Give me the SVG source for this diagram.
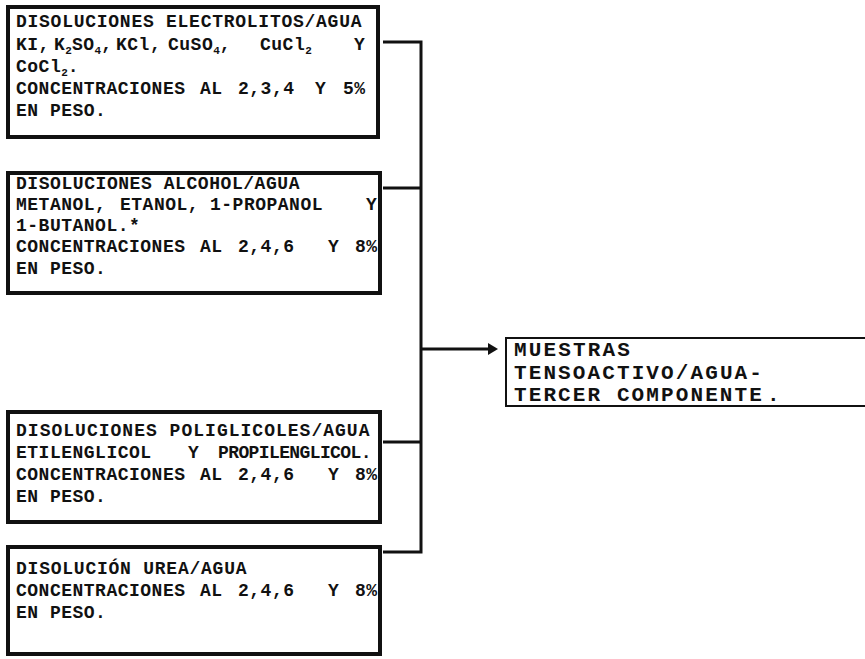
<svg xmlns="http://www.w3.org/2000/svg" width="865" height="659" viewBox="0 0 865 659">
<style>
.t{font-family:"Liberation Mono","Courier New",monospace;font-weight:bold;font-size:18px;letter-spacing:0.5px;fill:#111}
.big{font-size:21px;letter-spacing:2.1px}
.sub{font-size:11px;letter-spacing:0}
.box{fill:#fff;stroke:#111;stroke-width:4}
.rbox{fill:#fff;stroke:#111;stroke-width:2}
.conn{fill:none;stroke:#111;stroke-width:3}
</style>
<defs>
<marker id="ah" viewBox="0 0 10 12" refX="4" refY="6" markerWidth="10" markerHeight="12" markerUnits="userSpaceOnUse" orient="auto">
<path d="M0 0 L10 6 L0 12 z" fill="#111"/>
</marker>
</defs>
<rect width="865" height="659" fill="#fff"/>

<g id="connectors">
<path class="conn" d="M383 42 H421 V552 H383"/>
<path class="conn" d="M383 188 H421"/>
<path class="conn" d="M383 442 H421"/>
<path class="conn" d="M421 349 H492" marker-end="url(#ah)"/>
</g>

<g id="electrolitos">
<rect class="box" x="8" y="7" width="370" height="130"/>
<text class="t" x="16" y="27" textLength="346" lengthAdjust="spacing">DISOLUCIONES ELECTROLITOS/AGUA</text>
<text class="t" x="16" y="50">KI,</text>
<text class="t" x="54" y="50">K<tspan class="sub" dy="4">2</tspan><tspan dy="-4">SO</tspan><tspan class="sub" dy="4">4</tspan><tspan dy="-4">,</tspan></text>
<text class="t" x="116" y="50">KCl,</text>
<text class="t" x="168" y="50">CuSO<tspan class="sub" dy="4">4</tspan><tspan dy="-4">,</tspan></text>
<text class="t" x="260" y="50">CuCl<tspan class="sub" dy="4">2</tspan></text>
<text class="t" x="354" y="50">Y</text>
<text class="t" x="16" y="72">CoCl<tspan class="sub" dy="4">2</tspan><tspan dy="-4">.</tspan></text>
<text class="t" x="16" y="94">CONCENTRACIONES</text>
<text class="t" x="200" y="94">AL</text>
<text class="t" x="238" y="94">2,3,4</text>
<text class="t" x="315" y="94">Y</text>
<text class="t" x="343" y="94">5%</text>
<text class="t" x="16" y="116">EN PESO.</text>
</g>

<g id="alcohol">
<rect class="box" x="8" y="173" width="372" height="120"/>
<text class="t" x="16" y="189" textLength="284" lengthAdjust="spacing">DISOLUCIONES ALCOHOL/AGUA</text>
<text class="t" x="16" y="210">METANOL,</text>
<text class="t" x="120" y="210">ETANOL,</text>
<text class="t" x="210" y="210">1-PROPANOL</text>
<text class="t" x="366" y="210">Y</text>
<text class="t" x="16" y="231">1-BUTANOL.*</text>
<text class="t" x="16" y="252">CONCENTRACIONES</text>
<text class="t" x="200" y="252">AL</text>
<text class="t" x="238" y="252">2,4,6</text>
<text class="t" x="328" y="252">Y</text>
<text class="t" x="355" y="252">8%</text>
<text class="t" x="16" y="274">EN PESO.</text>
</g>

<g id="poliglicoles">
<rect class="box" x="8" y="412" width="372" height="110"/>
<text class="t" x="16" y="436" textLength="354" lengthAdjust="spacing">DISOLUCIONES POLIGLICOLES/AGUA</text>
<text class="t" x="16" y="458">ETILENGLICOL</text>
<text class="t" x="188" y="458">Y</text>
<text class="t" x="218" y="458" textLength="154" lengthAdjust="spacing">PROPILENGLICOL.</text>
<text class="t" x="16" y="480">CONCENTRACIONES</text>
<text class="t" x="200" y="480">AL</text>
<text class="t" x="238" y="480">2,4,6</text>
<text class="t" x="328" y="480">Y</text>
<text class="t" x="355" y="480">8%</text>
<text class="t" x="16" y="502">EN PESO.</text>
</g>

<g id="urea">
<rect class="box" x="8" y="547" width="372" height="107"/>
<text class="t" x="16" y="574" textLength="231" lengthAdjust="spacing">DISOLUCIÓN UREA/AGUA</text>
<text class="t" x="16" y="596">CONCENTRACIONES</text>
<text class="t" x="200" y="596">AL</text>
<text class="t" x="238" y="596">2,4,6</text>
<text class="t" x="328" y="596">Y</text>
<text class="t" x="355" y="596">8%</text>
<text class="t" x="16" y="618">EN PESO.</text>
</g>

<g id="muestras">
<rect class="rbox" x="506" y="338" width="370" height="68"/>
<text class="t big" x="514" y="356" textLength="118" lengthAdjust="spacing">MUESTRAS</text>
<text class="t big" x="514" y="379" textLength="250" lengthAdjust="spacing">TENSOACTIVO/AGUA-</text>
<text class="t big" x="514" y="401">TERCER COMPONENTE<tspan dx="3">.</tspan></text>
</g>
</svg>
